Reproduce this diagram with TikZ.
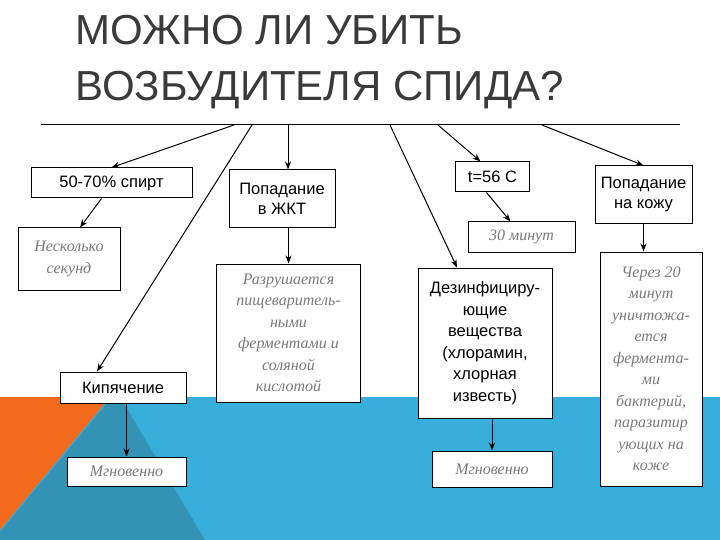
\documentclass[tikz,border=0pt]{standalone}
\usepackage{fontspec}
\setmainfont{Liberation Sans}
\newfontfamily\ser{Liberation Serif}
\usetikzlibrary{arrows.meta}
\definecolor{orng}{HTML}{F26A1B}
\definecolor{blu}{HTML}{38AEDB}
\definecolor{dteal}{HTML}{3492B5}
\definecolor{ttl}{HTML}{3A3A3A}
\definecolor{gtxt}{HTML}{7A7A7A}
\begin{document}
\begin{tikzpicture}[x=1pt,y=-1pt,
  box/.style={draw=black,line width=1pt,fill=white,inner sep=0pt,align=center,font=\fontsize{16.5}{20}\selectfont},
  ibox/.style={box,text=gtxt,font=\ser\itshape\fontsize{16}{21.5}\selectfont},
  arr/.style={-{Stealth[length=8pt,width=6pt]},line width=1pt}]
\useasboundingbox (0,0) rectangle (720,540);
\fill[white] (0,0) rectangle (720,540);
\fill[blu] (0,397) rectangle (720,540);
\fill[orng] (0,397) -- (110,397) -- (0,530) -- cycle;
\fill[dteal] (112,397) -- (0,532) -- (0,540) -- (205,540) -- (120,397) -- cycle;
\node[anchor=base west,text=ttl,font=\fontsize{42}{42}\selectfont] (t1) at (72,45) {МОЖНО ЛИ УБИТЬ};
\node[anchor=base west,text=ttl,font=\fontsize{42}{42}\selectfont] (t2) at (72,101) {ВОЗБУДИТЕЛЯ СПИДА?};
\coordinate (L) at (41,125); \coordinate (R) at (680,125);
\draw[line width=1pt] (L) -- (R);
\coordinate (s1) at (234,125); \coordinate (s2) at (252,125); \coordinate (s3) at (288,125);
\coordinate (s4) at (390,125); \coordinate (s5) at (438,125); \coordinate (s6) at (542,125);
% boxes
\node[box,minimum width=161,minimum height=30] (b1) at (111.5,183) {50-70\% спирт};
\node[ibox,minimum width=102,minimum height=62] (b2) at (69,259) {Несколько\\секунд};
\node[box,minimum width=126,minimum height=31] (b3) at (123,387.5) {Кипячение};
\node[ibox,minimum width=119,minimum height=29] (b4) at (126.5,471.5) {Мгновенно};
\node[box,minimum width=106,minimum height=58] (c1) at (282,199) {Попадание\\в ЖКТ};
\node[ibox,minimum width=144,minimum height=138] (c2) at (288.5,333) {Разрушается\\пищеваритель-\\ными\\ферментами и\\соляной\\кислотой};
\node[box,minimum width=134,minimum height=150,font=\fontsize{16.5}{21.5}\selectfont] (d1) at (485,343) {Дезинфициру-\\ющие\\вещества\\(хлорамин,\\хлорная\\известь)};
\node[ibox,minimum width=120,minimum height=36] (d2) at (492,469) {Мгновенно};
\node[box,minimum width=74,minimum height=30] (e1) at (492.5,177) {t=56 C};
\node[ibox,minimum width=107,minimum height=30] (e2) at (521.5,237) {30 минут};
\node[box,minimum width=97,minimum height=58] (f1) at (643.5,195) {Попадание\\на кожу};
\node[ibox,minimum width=102,minimum height=234] (f2) at (651,369) {Через 20\\минут\\уничтожа-\\ется\\фермента-\\ми\\бактерий,\\паразитир\\ующих на\\коже};
% connectors
\draw[arr] (s1) -- (b1.north);
\draw[arr] (s2) -- ([xshift=-26pt]b3.north);
\draw[arr] (s3) -- (c1.north -| s3);
\draw[arr] (s4) -- ([xshift=-28pt]d1.north);
\draw[arr] (s5) -- ([xshift=-12pt]e1.north);
\draw[arr] (s6) -- (f1.north);
\draw[arr] ([xshift=-10pt]b1.south) -- ([xshift=11pt]b2.north);
\draw[arr] (b3.south -| b4.north) -- (b4.north);
\draw[arr] (c1.south -| c2.north) -- (c2.north);
\draw[arr] ([xshift=-6pt]e1.south) -- ([xshift=-11pt]e2.north);
\draw[arr] (d1.south -| d2.north) -- (d2.north);
\draw[arr] (f1.south) -- (f1.south |- f2.north);
\end{tikzpicture}
\end{document}
